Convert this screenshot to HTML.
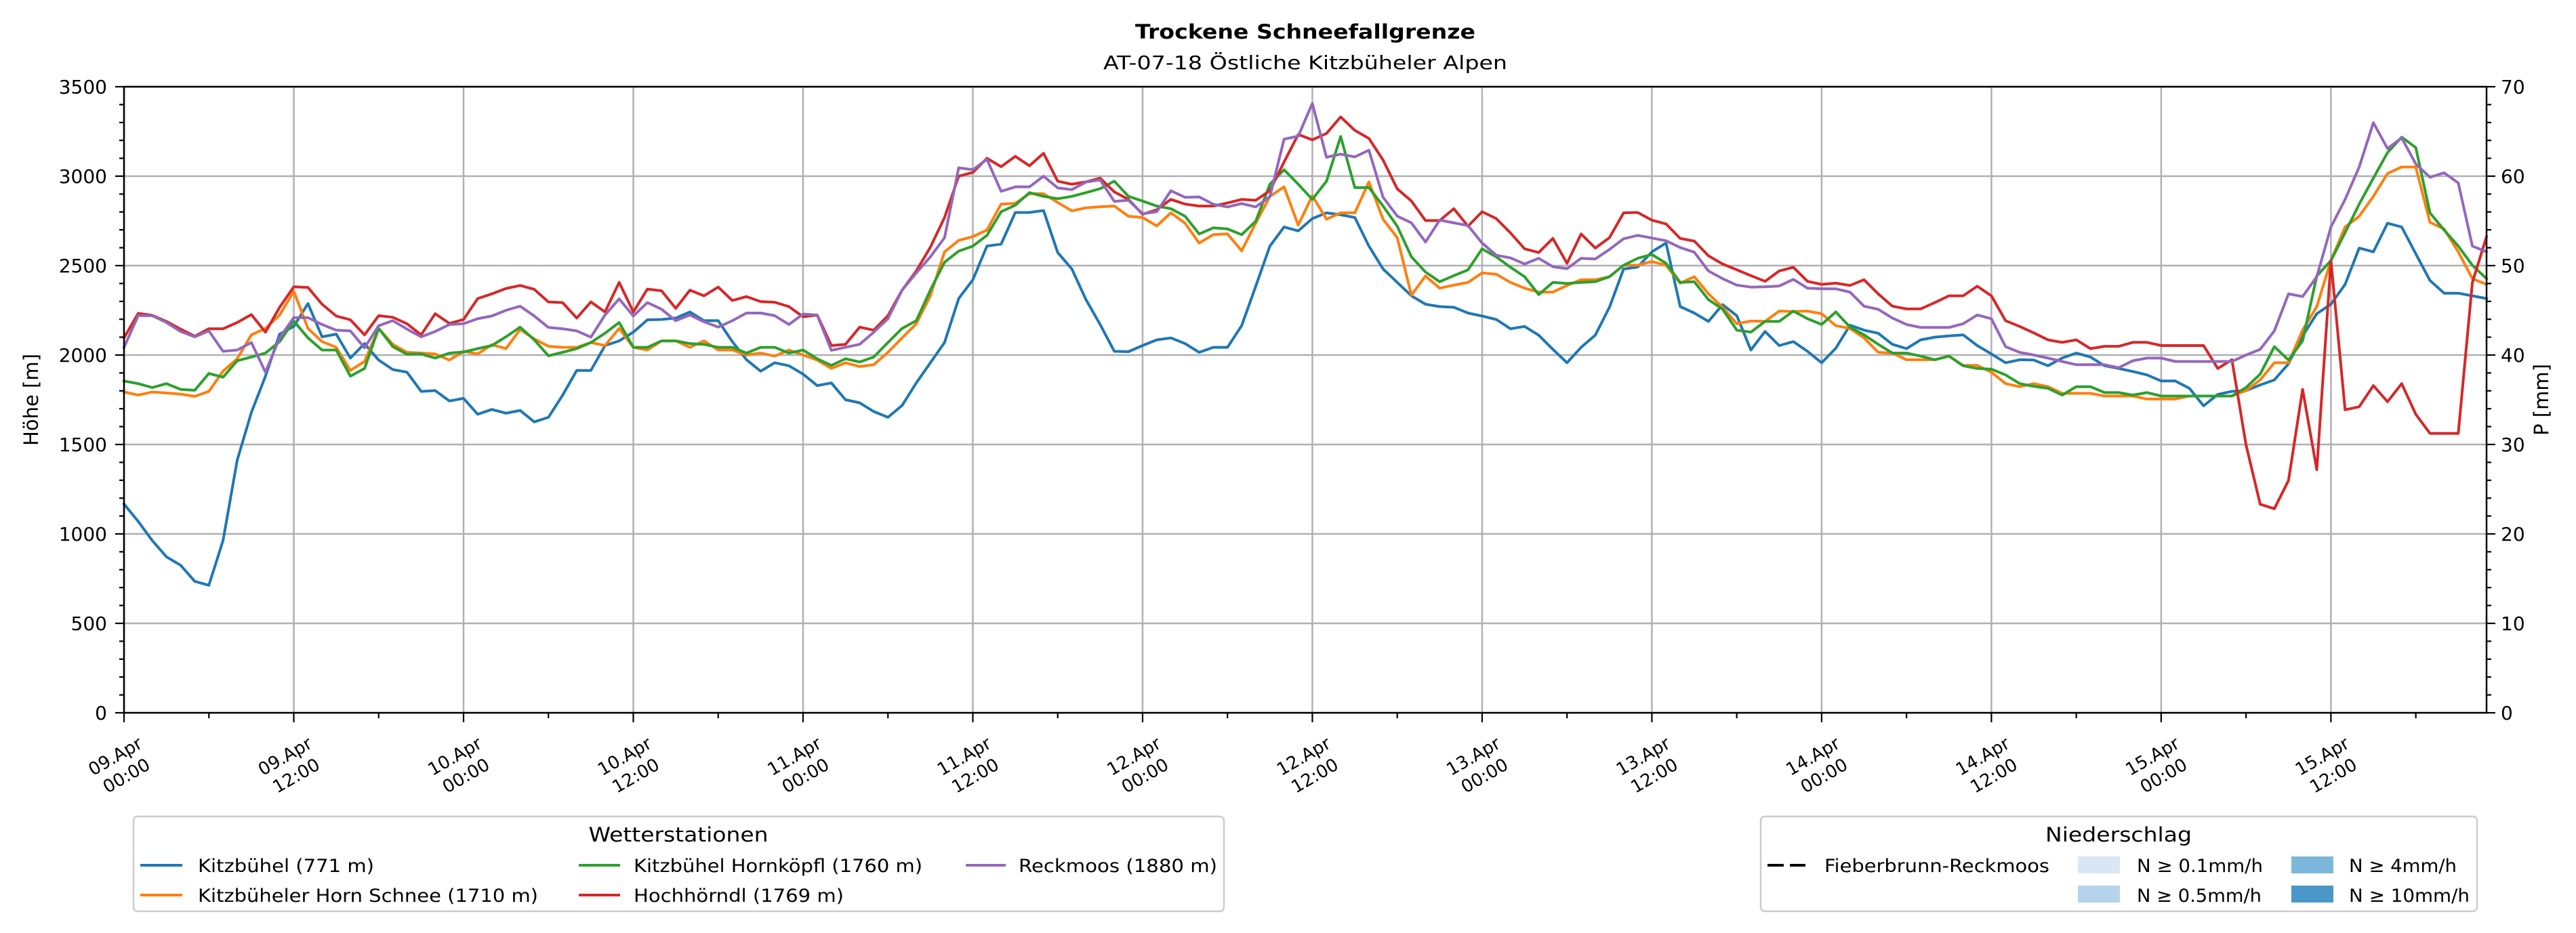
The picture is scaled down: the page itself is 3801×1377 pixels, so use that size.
<!DOCTYPE html>
<html><head><meta charset="utf-8"><style>
html,body{margin:0;padding:0;background:#fff;}
svg{display:block;font-family:"DejaVu Sans","Liberation Sans",sans-serif;}
</style></head>
<body>
<svg id="chart" width="3801" height="1377" viewBox="0 0 3801 1377" xmlns="http://www.w3.org/2000/svg">
<rect x="0" y="0" width="3801" height="1377" fill="#fff"/>
<text x="1926" y="57" text-anchor="middle" font-size="29" font-weight="bold" textLength="502" lengthAdjust="spacingAndGlyphs">Trockene Schneefallgrenze</text>
<text x="1926" y="102" text-anchor="middle" font-size="28" textLength="596" lengthAdjust="spacingAndGlyphs">AT-07-18 Östliche Kitzbüheler Alpen</text>
<g id="grid"></g>
<g id="series"></g>
<g id="axes"></g>
<text transform="translate(56,590) rotate(-90)" text-anchor="middle" font-size="29">Höhe [m]</text>
<text transform="translate(3760,590) rotate(-90)" text-anchor="middle" font-size="29">P [mm]</text>

<g>
<rect x="197" y="1205" width="1609" height="140" rx="6" fill="#fff" fill-opacity="0.8" stroke="#cccccc" stroke-width="2.5"/>
<text x="1001" y="1242" text-anchor="middle" font-size="29" textLength="265" lengthAdjust="spacingAndGlyphs">Wetterstationen</text>
<g><line x1="207" y1="1277" x2="269" y2="1277" stroke="#1f77b4" stroke-width="4"/><text x="292" y="1287" font-size="27" textLength="260" lengthAdjust="spacingAndGlyphs">Kitzbühel (771 m)</text></g>
<g><line x1="207" y1="1321" x2="269" y2="1321" stroke="#ff7f0e" stroke-width="4"/><text x="292" y="1331" font-size="27" textLength="502" lengthAdjust="spacingAndGlyphs">Kitzbüheler Horn Schnee (1710 m)</text></g>
<g><line x1="854" y1="1277" x2="915" y2="1277" stroke="#2ca02c" stroke-width="4"/><text x="935" y="1287" font-size="27" textLength="426" lengthAdjust="spacingAndGlyphs">Kitzbühel Hornköpfl (1760 m)</text></g>
<g><line x1="854" y1="1321" x2="915" y2="1321" stroke="#d62728" stroke-width="4"/><text x="935" y="1331" font-size="27" textLength="310" lengthAdjust="spacingAndGlyphs">Hochhörndl (1769 m)</text></g>
<g><line x1="1425" y1="1277" x2="1484" y2="1277" stroke="#9467bd" stroke-width="4"/><text x="1503" y="1287" font-size="27" textLength="293" lengthAdjust="spacingAndGlyphs">Reckmoos (1880 m)</text></g>
</g>

<g>
<rect x="2598" y="1205" width="1057" height="140" rx="6" fill="#fff" fill-opacity="0.8" stroke="#cccccc" stroke-width="2.5"/>
<text x="3126" y="1242" text-anchor="middle" font-size="29" textLength="216" lengthAdjust="spacingAndGlyphs">Niederschlag</text>
<g><line x1="2608" y1="1277" x2="2664" y2="1277" stroke="#000" stroke-width="4" stroke-dasharray="24 9"/><text x="2692" y="1287" font-size="27" textLength="332" lengthAdjust="spacingAndGlyphs">Fieberbrunn-Reckmoos</text></g>
<g><rect x="3066" y="1264" width="62" height="25" fill="#d9e7f5"/><text x="3153" y="1287" font-size="27" textLength="186" lengthAdjust="spacingAndGlyphs">N ≥ 0.1mm/h</text></g>
<g><rect x="3066" y="1307" width="62" height="25" fill="#b5d3ea"/><text x="3153" y="1331" font-size="27" textLength="184" lengthAdjust="spacingAndGlyphs">N ≥ 0.5mm/h</text></g>
<g><rect x="3381" y="1264" width="62" height="25" fill="#7db7dc"/><text x="3466" y="1287" font-size="27" textLength="159" lengthAdjust="spacingAndGlyphs">N ≥ 4mm/h</text></g>
<g><rect x="3381" y="1307" width="62" height="25" fill="#4a98c9"/><text x="3466" y="1331" font-size="27" textLength="178" lengthAdjust="spacingAndGlyphs">N ≥ 10mm/h</text></g>
</g>
</svg>
<script>
const hours = Array.from({length:168},(_,i)=>i);
const kitzbuehel = [1167,1070,963,872,825,735,713,963,1412,1679,1882,2117,2160,2288,2102,2117,1983,2064,1972,1919,1904,1797,1801,1743,1758,1669,1696,1675,1690,1626,1652,1775,1914,1914,2053,
2079,2128,2197,2199,2207,2241,2192,2192,2075,1974,1910,1957,1940,1893,1829,1844,1750,1733,1684,1652,1718,1844,1957,2070,2316,2421,2609,2620,2797,2797,2808,2573,2481,
2310,2171,2021,2019,2053,2085,2096,2064,2015,2043,2043,2164,2385,2609,2716,2694,2763,2795,2784,2769,2609,2481,2406,2331,2284,2271,2267,2235,2218,2199,2147,2160,2111,
2032,1957,2043,2111,2267,2481,2492,2577,2626,2271,2235,2188,2282,2220,2028,2132,2053,2075,2021,1957,2038,2167,2139,2122,2060,2036,2085,2100,2107,2113,2053,2006,
1957,1974,1972,1940,1983,2011,1989,1940,1925,1908,1889,1855,1855,1814,1716,1780,1797,1801,1833,1861,1951,2107,2231,2284,2395,2598,2577,2737,2716,2566,2417,2346,2346,2331,2316];
const hornSchnee = [1793,1776,1793,1788,1782,1769,1797,1910,1979,2113,2149,2224,2357,2149,2075,2043,1914,1964,2149,2060,2015,2011,2006,1972,2021,2006,2058,2036,2143,2090,2049,2043,2043,2070,2053,
2149,2043,2028,2079,2079,2043,2079,2028,2028,2000,2011,1994,2028,2000,1972,1925,1957,1936,1946,2015,2096,2175,2331,2577,2641,2662,2699,2844,2848,2902,2902,2853,2806,
2823,2829,2833,2776,2769,2722,2795,2737,2626,2673,2677,2583,2737,2887,2940,2726,2891,2759,2795,2795,2968,2759,2656,2335,2442,2374,2391,2406,2459,2452,2406,2374,2352,
2352,2389,2421,2421,2438,2502,2502,2523,2502,2402,2438,2342,2267,2175,2190,2188,2246,2243,2246,2231,2164,2149,2096,2015,2011,1974,1974,1974,1994,1942,1942,1904,
1840,1823,1840,1823,1786,1786,1786,1771,1771,1771,1754,1754,1754,1771,1771,1771,1771,1801,1861,1957,1957,2139,2271,2528,2716,2776,2887,3015,3051,3051,2742,2705,2577,2427,2395];
const hornkoepfl = [1855,1840,1818,1840,1808,1803,1897,1876,1968,1989,2011,2075,2190,2096,2028,2028,1882,1925,2149,2047,2004,2006,1983,2011,2017,2036,2053,2102,2156,2085,1996,2015,2036,2070,2122,
2182,2043,2043,2079,2079,2064,2060,2043,2043,2011,2043,2043,2011,2028,1979,1942,1979,1961,1989,2070,2149,2192,2363,2519,2581,2609,2669,2801,2838,2908,2887,2874,2887,
2908,2930,2972,2887,2861,2833,2818,2776,2677,2711,2705,2673,2748,2955,3036,2955,2870,2972,3222,2936,2936,2833,2720,2549,2464,2410,2444,2476,2594,2549,2491,2438,2338,
2406,2400,2406,2410,2438,2502,2541,2562,2513,2406,2410,2310,2256,2139,2128,2188,2188,2246,2203,2171,2241,2156,2113,2060,2011,2011,1994,1974,1994,1940,1925,1921,
1889,1840,1825,1814,1776,1823,1823,1790,1790,1776,1790,1771,1771,1771,1771,1771,1771,1818,1893,2047,1972,2079,2442,2528,2684,2844,2989,3132,3218,3160,2795,2699,2609,2502,2427];
const hochhoerndl = [2096,2233,2222,2188,2145,2105,2147,2147,2182,2226,2128,2267,2382,2378,2284,2218,2197,2113,2220,2211,2175,2113,2231,2177,2199,2316,2342,2372,2389,2367,2297,2293,2207,2297,2241,
2406,2241,2369,2359,2261,2363,2331,2380,2305,2327,2299,2295,2271,2214,2224,2053,2060,2156,2139,2220,2363,2470,2603,2769,3000,3021,3100,3053,3111,3058,3128,2972,2955,
2968,2989,2912,2870,2787,2812,2870,2844,2833,2833,2850,2870,2865,2919,3079,3233,3203,3239,3331,3256,3211,3090,2929,2861,2752,2752,2818,2720,2801,2763,2683,2594,2573,
2652,2513,2677,2598,2656,2795,2797,2754,2733,2652,2637,2555,2509,2477,2444,2412,2470,2491,2412,2395,2402,2389,2421,2342,2273,2258,2258,2293,2331,2331,2385,2331,
2192,2160,2124,2085,2071,2085,2036,2049,2049,2071,2071,2053,2053,2053,2053,1925,1974,1498,1166,1141,1299,1808,1359,2528,1694,1711,1829,1739,1840,1669,1562,1562,1562,2406,2662];
const reckmoos = [2043,2220,2220,2182,2132,2102,2135,2021,2028,2070,1904,2096,2209,2209,2171,2139,2135,2040,2164,2192,2145,2102,2132,2171,2175,2203,2218,2250,2273,2218,2154,2147,2135,2100,2224,
2314,2218,2293,2256,2192,2224,2186,2156,2192,2235,2235,2220,2171,2229,2224,2026,2043,2060,2128,2203,2363,2459,2549,2656,3047,3036,3094,2915,2940,2940,3000,2934,2925,
2967,2979,2859,2865,2790,2801,2918,2882,2884,2843,2828,2847,2828,2886,3207,3224,3407,3106,3123,3108,3145,2882,2777,2739,2632,2754,2739,2724,2626,2558,2543,2509,2541,
2494,2483,2541,2537,2590,2650,2669,2654,2639,2601,2575,2470,2427,2391,2380,2382,2386,2423,2374,2370,2370,2352,2273,2256,2207,2171,2154,2154,2154,2175,2224,2203,
2047,2015,2000,1983,1964,1946,1946,1946,1929,1968,1983,1983,1964,1964,1964,1964,1964,2000,2032,2135,2342,2327,2438,2716,2870,3051,3299,3154,3214,3068,2994,3019,2962,2609,2577];
const yTicks = [0,500,1000,1500,2000,2500,3000,3500];
const y2Ticks = [0,10,20,30,40,50,60,70];
const xTickLabels = [["09.Apr","00:00"],["09.Apr","12:00"],["10.Apr","00:00"],["10.Apr","12:00"],["11.Apr","00:00"],["11.Apr","12:00"],["12.Apr","00:00"],["12.Apr","12:00"],["13.Apr","00:00"],["13.Apr","12:00"],["14.Apr","00:00"],["14.Apr","12:00"],["15.Apr","00:00"],["15.Apr","12:00"]];

const NS='http://www.w3.org/2000/svg';
const L=183,R=3669,T=128,B=1052,HMAX=167,YMAX=3500,PMAX=70;
const xs=h=>L+h*(R-L)/HMAX;
const ys=v=>B-v*(B-T)/YMAX;
const ys2=p=>B-p*(B-T)/PMAX;
function mk(tag,attrs,parent){const e=document.createElementNS(NS,tag);for(const k in attrs)e.setAttribute(k,attrs[k]);parent.appendChild(e);return e;}
const grid=document.getElementById('grid'),axes=document.getElementById('axes'),ser=document.getElementById('series');

yTicks.forEach(v=>{const g=mk('line',{x1:L,x2:R,y1:ys(v),y2:ys(v),stroke:'#b0b0b0','stroke-width':2.5},grid);

});
xTickLabels.forEach((lab,i)=>{const g=mk('line',{x1:xs(i*12),x2:xs(i*12),y1:T,y2:B,stroke:'#b0b0b0','stroke-width':2.5},grid);

});

const seriesList=[[kitzbuehel,'#1f77b4','line-kitzbuehel'],[hornSchnee,'#ff7f0e','line-horn-schnee'],[hornkoepfl,'#2ca02c','line-hornkoepfl'],[hochhoerndl,'#d62728','line-hochhoerndl'],[reckmoos,'#9467bd','line-reckmoos']];
seriesList.forEach(([vals,col,name])=>{
  const pts=vals.map((v,i)=>xs(hours[i]).toFixed(1)+','+ys(v).toFixed(1)).join(' ');
  const p=mk('polyline',{points:pts,fill:'none',stroke:col,'stroke-width':4,'stroke-linejoin':'round','stroke-linecap':'square'},ser);
  
  
});

const fr=mk('rect',{x:L,y:T,width:R-L,height:B-T,fill:'none',stroke:'#000','stroke-width':2.5},axes);



for(let v=0;v<=YMAX;v+=100){const major=v%500===0;mk('line',{x1:L,x2:L-(major?13:7),y1:ys(v),y2:ys(v),stroke:'#000','stroke-width':2.2},axes);}
yTicks.forEach(v=>{const t=mk('text',{x:158,y:ys(v)+10,'text-anchor':'end','font-size':28},axes);t.textContent=v;

});
for(let p=0;p<=PMAX;p+=2){const major=p%10===0;mk('line',{x1:R,x2:R+(major?13:7),y1:ys2(p),y2:ys2(p),stroke:'#000','stroke-width':2.2},axes);}
y2Ticks.forEach(p=>{const t=mk('text',{x:3690,y:ys2(p)+10,'text-anchor':'start','font-size':28},axes);t.textContent=p;

});
for(let h=0;h<=HMAX;h+=6){const major=h%12===0;mk('line',{x1:xs(h),x2:xs(h),y1:B,y2:B+(major?14:8),stroke:'#000','stroke-width':2.2},axes);}
xTickLabels.forEach((lab,i)=>{
  const t=mk('text',{transform:`translate(${xs(i*12)-5},1130) rotate(-30)`,'text-anchor':'middle','font-size':26},axes);
  
  
  const a=mk('tspan',{x:0,y:-7},t);a.textContent=lab[0];
  const b=mk('tspan',{x:0,y:26},t);b.textContent=lab[1];
});
</script>
</body></html>
